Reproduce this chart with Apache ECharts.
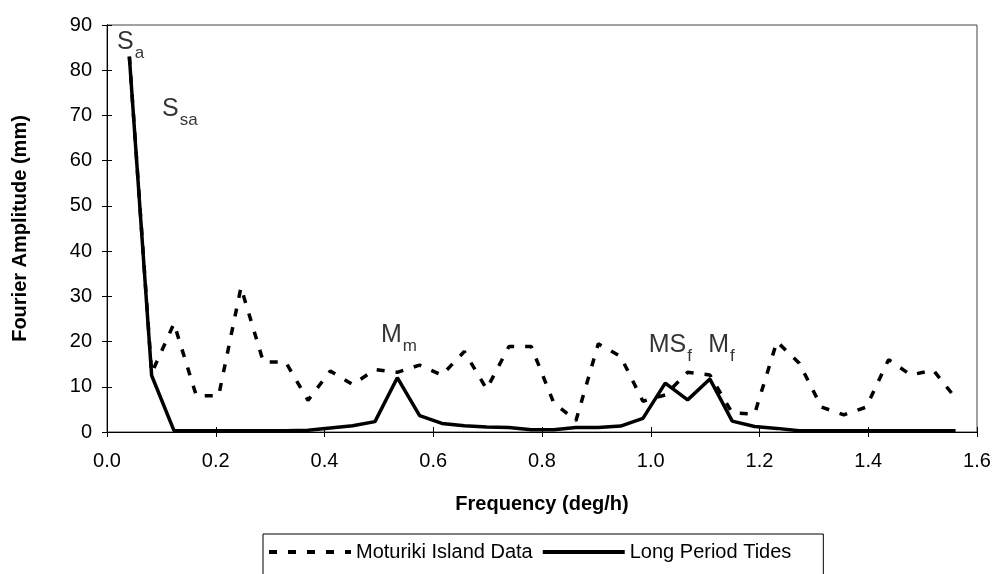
<!DOCTYPE html>
<html>
<head>
<meta charset="utf-8">
<script src="https://cdn.jsdelivr.net/npm/echarts@6/dist/echarts.min.js"></script>
<style>
html,body{margin:0;padding:0;background:#fff;}
#chart{width:994px;height:574px;}
</style>
</head>
<body>
<div id="chart"></div>
<script>
// Frequencies (deg/h)
var frequency = [0.0411, 0.0821, 0.1232, 0.1643, 0.2053, 0.2464, 0.2875, 0.3285, 0.3696, 0.4107,
  0.4517, 0.4928, 0.5339, 0.5749, 0.6160, 0.6571, 0.6982, 0.7392, 0.7803, 0.8214,
  0.8624, 0.9035, 0.9446, 0.9856, 1.0267, 1.0678, 1.1088, 1.1499, 1.1910, 1.2320,
  1.2731, 1.3142, 1.3552, 1.3963, 1.4374, 1.4784, 1.5195, 1.5606];
// Fourier amplitude (mm)
var moturikiData = [83, 13, 24, 8, 8, 32, 15.5, 15.5, 7, 13.5,
  10.5, 13.8, 13.2, 14.8, 12.6, 17.8, 9.5, 18.9, 18.9, 6.5,
  2.5, 19.5, 16.7, 6.8, 8.2, 13.2, 12.6, 4.2, 4.0, 20.0,
  15.2, 5.5, 3.8, 5.5, 16, 12.6, 13.7, 7.5];
var longPeriodTides = [83, 12.5, 0.3, 0.3, 0.3, 0.3, 0.3, 0.3, 0.4, 0.9,
  1.4, 2.3, 12.0, 3.6, 1.9, 1.4, 1.1, 1.0, 0.5, 0.5,
  1.0, 1.0, 1.3, 3.0, 10.8, 7.1, 11.7, 2.4, 1.2, 0.8,
  0.3, 0.3, 0.3, 0.3, 0.3, 0.3, 0.3, 0.3];
// Constituent labels: main letters, subscript, position (freq, amplitude)
var labelMain = ['S', 'S', 'M', 'MS', 'M'];
var labelSub = ['a', 'sa', 'm', 'f', 'f'];
var labelFreq = [0.0435, 0.134, 0.537, 1.036, 1.130];
var labelAmp = [86.7, 72, 21.9, 19.7, 19.7];
var xTicks = {min: 0, max: 1.6, interval: 0.2};
var yTicks = {min: 0, max: 90, interval: 10};
var seriesNames = ['Moturiki Island Data', 'Long Period Tides'];

function pairs(xs, ys) { return xs.map(function (x, i) { return [x, ys[i]]; }); }

var annData = labelMain.map(function (m, i) {
  return { value: [labelFreq[i], labelAmp[i]], main: m, sub: labelSub[i] };
});

var FONT = 'Liberation Sans, Arial, sans-serif';
var chart = echarts.init(document.getElementById('chart'));
var axisBase = {
  type: 'value',
  axisLine: { show: true, lineStyle: { color: '#000', width: 1 } },
  splitLine: { show: false }
};
var legendText = { fontFamily: FONT, fontSize: 20, color: '#000' };
chart.setOption({
  animation: false,
  backgroundColor: '#fff',
  grid: { left: 107, right: 17, top: 25, bottom: 142, show: true, borderColor: '#444', borderWidth: 1 },
  xAxis: [
    Object.assign({}, axisBase, {
      min: xTicks.min, max: xTicks.max, interval: xTicks.interval,
      name: 'Frequency (deg/h)', nameLocation: 'middle', nameGap: 62,
      nameTextStyle: { fontFamily: FONT, fontSize: 20, fontWeight: 'bold', color: '#000' },
      axisTick: { show: true, inside: false, length: 5, lineStyle: { color: '#000' } },
      axisLabel: { fontFamily: FONT, fontSize: 20, color: '#000', margin: 19,
        formatter: function (v) { return v.toFixed(1); } }
    }),
    Object.assign({}, axisBase, {
      min: xTicks.min, max: xTicks.max, interval: xTicks.interval, position: 'bottom',
      axisTick: { show: true, inside: true, length: 5, lineStyle: { color: '#000' } },
      axisLabel: { show: false }
    })
  ],
  yAxis: [
    Object.assign({}, axisBase, {
      min: yTicks.min, max: yTicks.max, interval: yTicks.interval,
      name: 'Fourier Amplitude (mm)', nameLocation: 'middle', nameGap: 77,
      nameTextStyle: { fontFamily: FONT, fontSize: 20, fontWeight: 'bold', color: '#000' },
      axisTick: { show: true, inside: false, length: 5, lineStyle: { color: '#000' } },
      axisLabel: { fontFamily: FONT, fontSize: 20, color: '#000', margin: 15 }
    }),
    Object.assign({}, axisBase, {
      min: yTicks.min, max: yTicks.max, interval: yTicks.interval, position: 'left',
      axisTick: { show: true, inside: true, length: 5, lineStyle: { color: '#000' } },
      axisLabel: { show: false }
    })
  ],
  legend: {
    left: 263, top: 534,
    data: seriesNames,
    itemWidth: 82, itemHeight: 14, itemGap: 8,
    padding: [8, 32, 40, 4],
    borderColor: '#000', borderWidth: 1,
    itemStyle: { opacity: 0 },
    lineStyle: { width: 4 },
    textStyle: legendText
  },
  series: [
    {
      name: seriesNames[0], type: 'line', data: pairs(frequency, moturikiData),
      showSymbol: false, symbol: 'none', z: 3,
      lineStyle: { color: '#000', width: 3.5, type: [8, 11] },
      itemStyle: { color: '#000' }
    },
    {
      name: seriesNames[1], type: 'line', data: pairs(frequency, longPeriodTides),
      showSymbol: false, symbol: 'none', z: 4,
      lineStyle: { color: '#000', width: 3.5, type: 'solid' },
      itemStyle: { color: '#000' }
    },
    {
      name: 'labels', type: 'scatter', data: annData, symbolSize: 0, silent: true,
      label: {
        show: true, position: 'inside',
        formatter: function (p) { return '{m|' + p.data.main + '}{s|' + p.data.sub + '}'; },
        rich: {
          m: { fontFamily: FONT, fontSize: 25, color: '#000', lineHeight: 30, verticalAlign: 'bottom' },
          s: { fontFamily: FONT, fontSize: 17, color: '#000', lineHeight: 30, verticalAlign: 'bottom', padding: [0, 0, -7, 1] }
        }
      }
    }
  ]
});
</script>
</body>
</html>
